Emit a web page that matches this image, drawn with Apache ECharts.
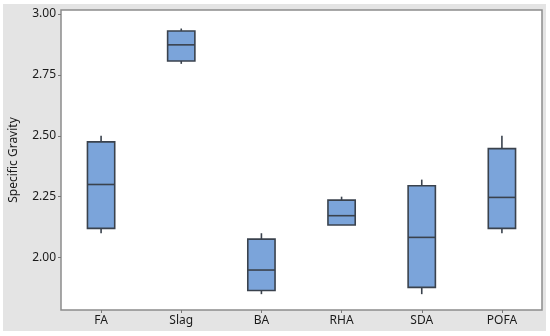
<!DOCTYPE html>
<html><head><meta charset="utf-8">
<script src="https://cdn.jsdelivr.net/npm/echarts@6/dist/echarts.min.js"></script>
<style>html,body{margin:0;padding:0;background:#fff}#c{width:550px;height:336px}</style>
</head><body><div id="c"></div>
<script>
var categories = ['FA','Slag','BA','RHA','SDA','POFA'];
var whiskerMin = [2.10, 2.795, 1.85, 2.134, 1.85, 2.10];
var q1Values   = [2.12, 2.807, 1.865, 2.134, 1.878, 2.12];
var medians    = [2.30, 2.873, 1.949, 2.172, 2.083, 2.247];
var q3Values   = [2.475, 2.93, 2.076, 2.236, 2.295, 2.447];
var whiskerMax = [2.50, 2.94, 2.10, 2.25, 2.32, 2.50];
var yTicks = [2.00, 2.25, 2.50, 2.75, 3.00];

var data = categories.map(function(c, i){
  return [i, whiskerMin[i], q1Values[i], medians[i], q3Values[i], whiskerMax[i]];
});
var edge = '#3a424d', fill = '#7ba4da';
var chart = echarts.init(document.getElementById('c'), null, {renderer:'canvas'});
chart.setOption({
  animation:false,
  backgroundColor:'#fff',
  graphic:[{type:'rect', z:-10, silent:true, shape:{x:3,y:4,width:543,height:327}, style:{fill:'#e4e4e4'}}],
  grid:{left:58, top:10, right:8, bottom:26, show:true, backgroundColor:'#fff', borderColor:'#8c8c8c', borderWidth:1.5},
  xAxis:{type:'category', data:categories, boundaryGap:true,
    axisLine:{show:false},
    axisTick:{show:true, alignWithLabel:true, length:3, lineStyle:{color:'#777'}},
    axisLabel:{color:'#1a1a1a', fontFamily:'Noto Sans', fontSize:12, margin:5}},
  yAxis:{type:'value', min:1.785, max:3.016,
    splitLine:{show:false}, axisLine:{show:false},
    name:'Specific Gravity', nameLocation:'middle', nameGap:41,
    nameTextStyle:{color:'#1a1a1a', fontFamily:'Noto Sans', fontSize:12},
    axisTick:{show:true, length:3, lineStyle:{color:'#777'}, customValues:yTicks},
    axisLabel:{color:'#1a1a1a', fontFamily:'Noto Sans', fontSize:12, margin:5, customValues:yTicks,
      formatter:function(v){return v.toFixed(2);}}},
  series:[{type:'custom', data:data, encode:{x:0, y:[1,2,3,4,5]},
    renderItem:function(params, api){
      var x = api.value(0);
      var pMin = api.coord([x, api.value(1)]);
      var pQ1 = api.coord([x, api.value(2)]);
      var pMed = api.coord([x, api.value(3)]);
      var pQ3 = api.coord([x, api.value(4)]);
      var pMax = api.coord([x, api.value(5)]);
      var w = api.size([1,0])[0]*0.34;
      var cx = pMed[0];
      var ls = {stroke:edge, lineWidth:1.6};
      return {type:'group', children:[
        {type:'line', shape:{x1:cx,y1:pMax[1],x2:cx,y2:pQ3[1]}, style:ls},
        {type:'line', shape:{x1:cx,y1:pQ1[1],x2:cx,y2:pMin[1]}, style:ls},
        {type:'rect', shape:{x:cx-w/2, y:pQ3[1], width:w, height:pQ1[1]-pQ3[1]}, style:{fill:fill, stroke:edge, lineWidth:1.6}},
        {type:'line', shape:{x1:cx-w/2,y1:pMed[1],x2:cx+w/2,y2:pMed[1]}, style:ls}
      ]};
    }}]
});
</script></body></html>
